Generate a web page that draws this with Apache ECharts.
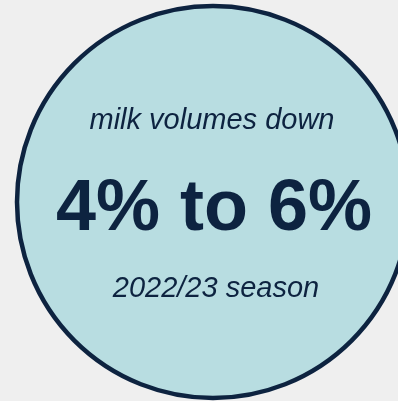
<!DOCTYPE html>
<html>
<head>
<meta charset="utf-8">
<script src="https://cdn.jsdelivr.net/npm/echarts@6/dist/echarts.min.js"></script>
<style>
  html, body { margin: 0; padding: 0; background: #efefef; }
  #main { width: 398px; height: 401px; }
</style>
</head>
<body>
<div id="main"></div>
<script>
  // one whole slice = the badge circle
  var slices = [1];
  var headline = '4% to 6%';
  var topLine = 'milk volumes down';
  var bottomLine = '2022/23 season';

  var navy = '#0d2340';
  var chart = echarts.init(document.getElementById('main'));

  chart.setOption({
    backgroundColor: '#efefef',
    animation: false,
    series: [{
      type: 'pie',
      center: [213, 202],
      radius: [0, 196],
      silent: true,
      label: { show: false },
      labelLine: { show: false },
      itemStyle: { color: '#b8dde1', borderColor: navy, borderWidth: 4.5 },
      data: slices.map(function (v) { return { value: v }; })
    }],
    graphic: [
      {
        type: 'text', x: 212, y: 135, z: 100,
        style: {
          text: topLine, fill: navy, align: 'center', verticalAlign: 'bottom',
          font: 'italic 29px "Liberation Sans", Arial, sans-serif'
        }
      },
      {
        type: 'text', x: 214, y: 246, z: 100,
        style: {
          text: headline, fill: navy, align: 'center', verticalAlign: 'bottom',
          font: 'bold 72px "Liberation Sans", Arial, sans-serif'
        }
      },
      {
        type: 'text', x: 216, y: 303, z: 100,
        style: {
          text: bottomLine, fill: navy, align: 'center', verticalAlign: 'bottom',
          font: 'italic 29px "Liberation Sans", Arial, sans-serif'
        }
      }
    ]
  });
</script>
</body>
</html>
